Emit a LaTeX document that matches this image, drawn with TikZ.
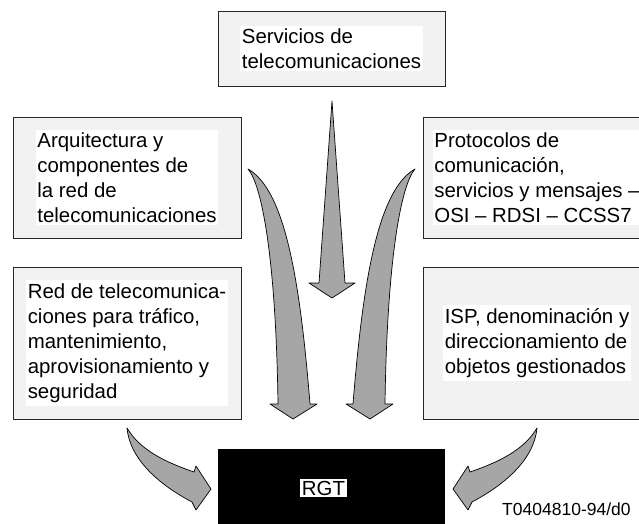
\documentclass[tikz,border=0pt]{standalone}
\usepackage{fontspec}
\setmainfont{Liberation Sans}
\begin{document}
\begin{tikzpicture}[x=1pt,y=-1pt,
    box/.style={draw=black!85,line width=0.8pt,fill=black!5,minimum width=228pt},
    txt/.style={fill=white,align=left,inner xsep=1.5pt,inner ysep=3pt,font=\fontsize{20.4}{25}\selectfont},
    flecha/.style={draw=black,line width=0.7pt,fill=black!35,line join=round}]
    \useasboundingbox (0,0) rectangle (639,524);

    \node[box,minimum width=227pt,minimum height=75pt] (serv) at (331.5,48.5) {};
    \node[txt] (servt) at (serv) {Servicios de\\telecomunicaciones};

    \node[box,minimum height=121pt] (arq) at (127,177.5) {};
    \node[txt] (arqt) at (arq) {Arquitectura y\\componentes de\\la red de\\telecomunicaciones};

    \node[box,minimum height=121pt] (prot) at (537,177.5) {};
    \node[txt] (prott) at (prot) {Protocolos de\\comunicación,\\servicios y mensajes --\\OSI -- RDSI -- CCSS7};

    \node[box,minimum height=152pt] (red) at (127,343) {};
    \node[txt] (redt) at (red) {Red de telecomunica-\\ciones para tráfico,\\mantenimiento,\\aprovisionamiento y\\seguridad};

    \node[box,minimum height=152pt] (isp) at (537,343) {};
    \node[txt] (ispt) at (isp) {ISP, denominación y\\direccionamiento de\\objetos gestionados};

    \node[fill=black,minimum width=227pt,minimum height=82pt] (rgt) at (331.5,490) {};
    \node[txt,inner ysep=2pt] (rgtt) at (323.5,488) {RGT};

    \node[anchor=base west,inner sep=0pt,font=\fontsize{17.5}{20}\selectfont] (ref) at (502,515) {T0404810-94/d0};

    \filldraw[flecha] (332,101) -- (345,283) -- (355,283) -- (332,298) -- (309,283) -- (319,283) -- cycle;
    \filldraw[flecha] (248,169) .. controls (262,185) and (276,260) .. (278,404) -- (270,404) -- (293,419)
        -- (317,404) -- (310,404) .. controls (300,280) and (285,190) .. (248,169) -- cycle;
    \filldraw[flecha] (415,169) .. controls (401,185) and (387,260) .. (385,404) -- (393,404) -- (370,419)
        -- (346,404) -- (353,404) .. controls (363,280) and (378,190) .. (415,169) -- cycle;
    \filldraw[flecha] (127,428) .. controls (140,450) and (165,462) .. (194,472) -- (196,466) -- (211,489)
        -- (196,510) -- (192,502) .. controls (160,485) and (130,460) .. (127,428) -- cycle;
    \filldraw[flecha] (537,428) .. controls (524,450) and (499,462) .. (470,472) -- (468,466) -- (453,489)
        -- (468,510) -- (472,502) .. controls (504,485) and (534,460) .. (537,428) -- cycle;
\end{tikzpicture}
\end{document}
